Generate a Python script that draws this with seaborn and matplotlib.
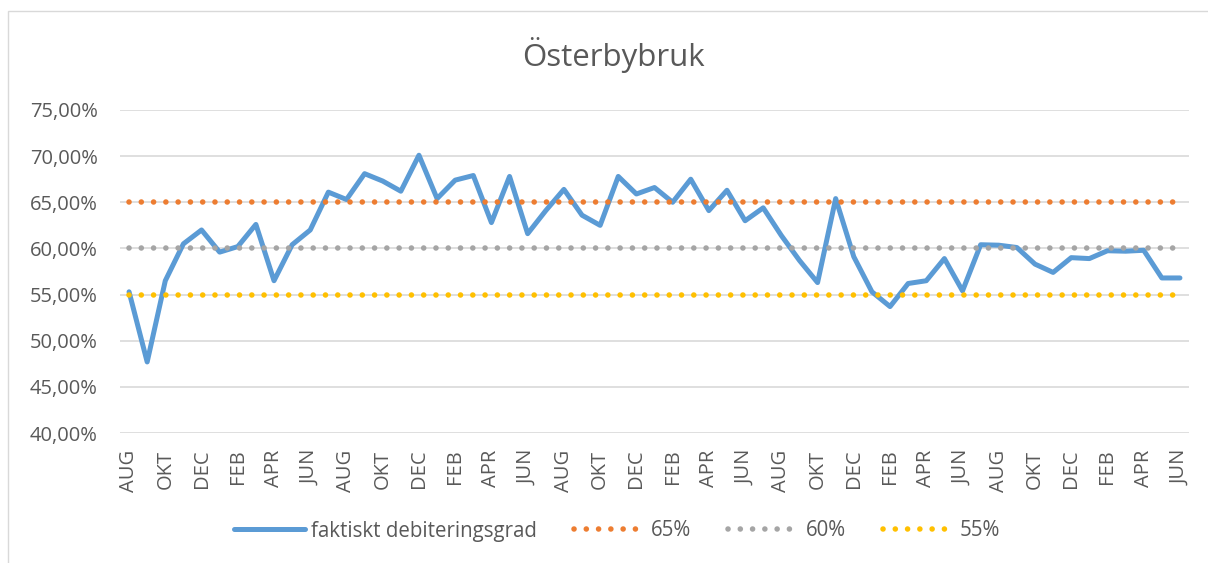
#!/usr/bin/env python

# Debiteringsgrad per manad for Osterbybruk, med malnivaer 65/60/55 %

import numpy as np
import pandas as pd
import matplotlib
matplotlib.use("Agg")
from matplotlib import pyplot as plt
from matplotlib.patches import Rectangle
import seaborn as sns

# Manadsvarden (procent), aug -> jun, 59 manader
debitering = [55.3, 47.7, 56.5, 60.5, 62.0, 59.6, 60.2, 62.6, 56.5, 60.4,
              62.0, 66.1, 65.3, 68.1, 67.3, 66.2, 70.1, 65.4, 67.4, 67.9,
              62.8, 67.8, 61.6, 64.1, 66.4, 63.6, 62.5, 67.8, 65.9, 66.6,
              65.0, 67.5, 64.1, 66.3, 63.0, 64.4, 61.4, 58.7, 56.3, 65.4,
              59.1, 55.3, 53.7, 56.2, 56.5, 58.9, 55.4, 60.4, 60.35, 60.1,
              58.3, 57.4, 59.0, 58.9, 59.75, 59.7, 59.8, 56.8, 56.8]

manadsnamn = ['AUG', 'SEP', 'OKT', 'NOV', 'DEC', 'JAN',
              'FEB', 'MAR', 'APR', 'MAJ', 'JUN', 'JUL']

# Malnivaer
mal_varden = [65, 60, 55]
mal_namn = ['65%', '60%', '55%']
mal_farger = ['#ed7d31', '#a5a5a5', '#ffc000']

n = len(debitering)
manader = (manadsnamn * 5)[:n]
df = pd.DataFrame({'idx': np.arange(n), 'manad': manader, 'grad': debitering})

sns.set_style("white")
plt.rcParams['font.family'] = ['Open Sans', 'DejaVu Sans']
textfarg = '#595959'

W, H = 1208, 563
fig = plt.figure(figsize=(W / 100, H / 100), dpi=100)
ax = fig.add_axes([120 / W, 1 - 433 / H, (1189 - 120) / W, (433 - 110) / H])

sns.lineplot(data=df, x='idx', y='grad', ax=ax, color='#5b9bd5', lw=3.6,
             solid_capstyle='round', solid_joinstyle='round',
             label='faktiskt debiteringsgrad')

for varde, namn, farg in zip(mal_varden, mal_namn, mal_farger):
    sns.lineplot(x=df['idx'], y=[varde] * n, ax=ax, color=farg, lw=4.0,
                 linestyle=(0, (0.01, 2.2)), dash_capstyle='round', label=namn)

ax.set_xlim(-0.5, n - 0.5)
ax.set_ylim(40, 75)
ax.set_yticks(np.arange(40, 76, 5))
ax.yaxis.set_major_formatter(lambda v, p: f"{v:.2f}".replace('.', ',') + '%')
ax.set_xticks(df['idx'][::2])
ax.set_xticklabels(df['manad'][::2], rotation=90)
ax.set_xlabel('')
ax.set_ylabel('')

ax.yaxis.grid(True, color='#d9d9d9', lw=1.2)
ax.xaxis.grid(False)
ax.set_axisbelow(True)
sns.despine(ax=ax, left=True, bottom=True)
ax.tick_params(axis='both', length=0, labelsize=14.5, colors=textfarg)
ax.tick_params(axis='x', pad=12)
ax.tick_params(axis='y', pad=16)

fig.text(613 / W, 1 - 55 / H, 'Österbybruk', ha='center', va='center',
         fontsize=22.5, color=textfarg)

ax.legend(loc='center', bbox_to_anchor=(617 / W, 1 - 531 / H),
          bbox_transform=fig.transFigure, ncol=4, frameon=False,
          fontsize=14.8, labelcolor=textfarg, handlelength=3.45,
          handletextpad=0.3, columnspacing=1.8)

# ram runt diagrammet
fig.patches.append(Rectangle((8 / W, -0.1), 1.2, 1 - 11 / H + 0.1,
                             transform=fig.transFigure, fill=False,
                             ec='#d9d9d9', lw=1.0))

fig.savefig('out.png', dpi=100)
